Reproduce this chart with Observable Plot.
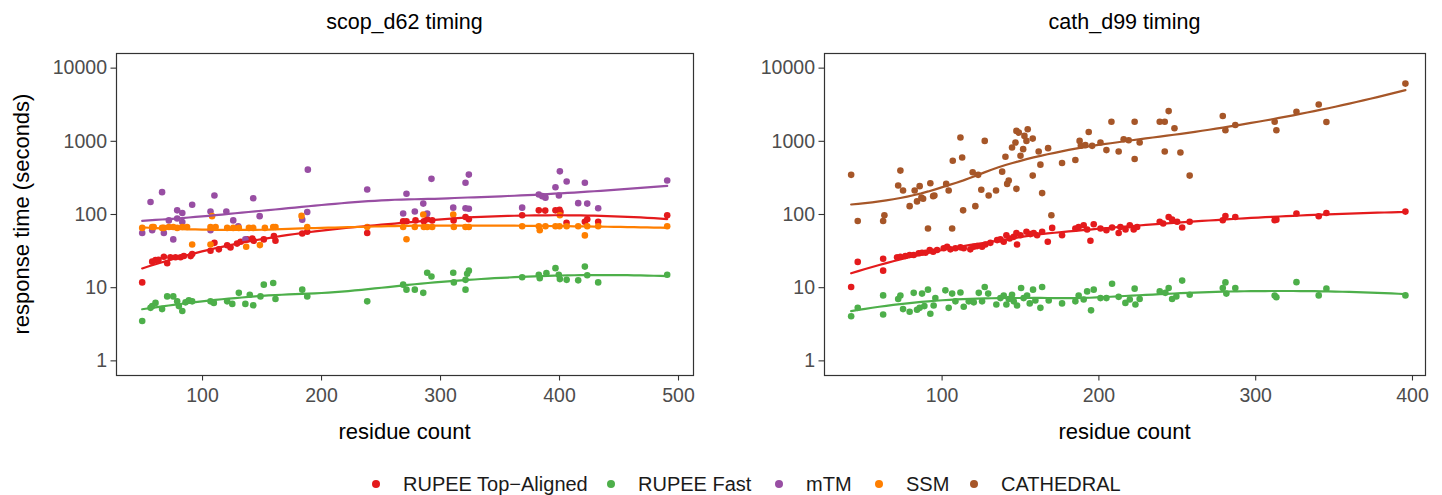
<!DOCTYPE html>
<html><head><meta charset="utf-8">
<script src="https://cdn.jsdelivr.net/npm/d3@7"></script>
<script src="https://cdn.jsdelivr.net/npm/@observablehq/plot@0.6"></script>
<style>
body{margin:0;background:#fff;font-family:"Liberation Sans",Arial,Helvetica,sans-serif;}
#wrap{position:relative;width:1442px;height:495px;overflow:hidden;background:#fff}
.panel{position:absolute;top:0}
.lbl{position:absolute;color:#000;white-space:nowrap;line-height:24px;height:24px;text-align:center}
.item{position:absolute;top:472px;height:24px;display:flex;align-items:center;font-size:20px;color:#1a1a1a;white-space:nowrap}
.item svg{display:block;margin-right:17px}
</style></head><body>
<div id="wrap"></div>
<script>
const methods = ["RUPEE Top-Aligned", "RUPEE Fast", "mTM", "SSM", "CATHEDRAL"];
const legendLabels = ["RUPEE Top\u2212Aligned", "RUPEE Fast", "mTM", "SSM", "CATHEDRAL"];
const colors = ["#E41A1C", "#4DAF4A", "#984EA3", "#FF7F00", "#A65628"];
const panelTitles = ["scop_d62 timing", "cath_d99 timing"];
const yTicks = [1, 10, 100, 1000, 10000];
const xTicksScop = [100, 200, 300, 400, 500];
const xTicksCath = [100, 200, 300, 400];

// scop_d62: [residue count, seconds]
const scopTopAligned = [[49.3,11.8],[57.7,22.7],[60.5,23.9],[63,24],[67.5,26.5],[70.3,21.6],[73,26],[77.3,26],[81.5,26],[84.3,27.1],[90,27],[91.3,28.9],[106.7,32],[110,41],[113.7,33.4],[120.7,38],[123.5,35.5],[129,40],[132,42.4],[137.5,45.7],[141.8,47],[143,43.7],[151.5,45.7],[160,50.6],[161.3,43.7],[183.8,55],[188,58],[238.4,56],[268.6,81],[271.4,81],[279,83],[286,81],[288.8,86],[293,83],[311,83],[321,92.5],[323.8,86],[368.6,97.5],[382.6,114],[388,113],[396.6,114],[400,116],[400.8,108],[405.9,77],[421.3,79.5],[423.3,86],[432.5,79.5],[490.5,97.5]];
const scopFast = [[49.3,3.5],[56.3,5.3],[57.7,5.6],[60.5,6.2],[66,5.1],[70.3,7.6],[75.4,7.6],[78.7,6.5],[80.1,5.6],[83,4.8],[85.7,6.3],[88.5,6.7],[91.3,6.5],[106.7,6.5],[109.5,6.2],[120.7,6.5],[125,6.0],[130.5,8.5],[136,6.0],[139.7,8.0],[142.6,5.75],[148.7,7.6],[151.5,11],[159.4,11.6],[161.3,7.0],[183.8,9.4],[188,7.6],[238.4,6.5],[268.6,11],[271.4,9.4],[278.4,9.4],[285.5,8.5],[288.8,16],[292.4,14.2],[310.7,16],[311.2,11.8],[321,9.4],[321,12.8],[323.8,17.1],[322.4,15.5],[368.6,13.9],[382.6,15],[383.4,13.5],[389,15.8],[396.6,18.5],[399.4,15],[400.3,13.1],[406,12.8],[415.7,12.6],[421.3,19.4],[423.3,14.8],[432.5,11.8],[490.5,15]];
const scopMTM = [[49.3,56],[56.3,148],[57.7,61],[66,202],[67.5,56],[71.7,83],[75.4,45.7],[78.7,114],[78.7,88],[83,105],[83,79],[91.3,136],[106.7,110],[106.7,61],[110,182],[120,110],[125.8,83],[130,69],[136,45.7],[142.6,167],[148,95],[183.8,85],[188.5,410],[188,108],[238.4,220],[268.6,103],[271.4,192],[278.4,110],[285.5,141],[288.8,103],[292.4,307],[310.7,124],[321,271],[323.8,351],[321,122],[323.8,120],[368.6,124],[382.6,188],[385.5,178],[388.2,170],[396.6,236],[400.3,389],[399.5,182],[406,282],[415.7,143],[421.3,271],[423.3,141],[432.5,122],[490.5,291]];
const scopSSM = [[49.3,65.6],[57.7,67.6],[59,67.6],[66,65.6],[67.5,65.6],[71.7,67.6],[75.4,67.6],[78.7,65.6],[83,67.6],[87,67.6],[91.3,39],[106.7,39],[106.7,67.6],[108,95],[111,67.6],[120.7,65.6],[125.8,65.6],[130.5,65.6],[136.7,36.3],[139,65.6],[142.6,65.6],[148.2,38.2],[152.4,65.6],[159.4,67.6],[161.3,67.6],[183.2,95.7],[188,67.6],[238.4,67.6],[268.6,67.6],[271.4,46],[278.4,67.6],[285.5,100],[286,67.6],[288.8,67.6],[293,67.6],[310.7,100],[311.2,67.6],[321,67.6],[323.8,67.6],[368.6,69],[382.6,69],[383.4,61],[388.2,69],[396.6,69],[400,69],[400.3,97.5],[406,69],[415.7,69],[421.3,51.8],[423.3,69],[432.5,69],[490.5,69]];

// cath_d99: [residue count, seconds]
const cathTopAligned = [[42,10.2],[46.2,22.5],[62.4,24.9],[62.4,17.1],[71.3,26],[73.4,26.5],[76.6,27.1],[79.3,28],[81.9,28],[85.1,29.5],[87.2,30],[89.4,30],[92.1,32.7],[94.3,31],[96.8,32.7],[101,34.5],[103.2,36.3],[105.3,33.4],[108.5,34.5],[111.7,35.6],[113.8,34.5],[118,33.4],[120.2,36.3],[122.3,37],[125.5,36.3],[127.6,39],[130.8,41],[135.1,44.7],[137.2,45.7],[139.3,42.4],[141,52],[143.1,47],[145.7,49.5],[147.4,56],[147.8,39],[150,52],[153.8,58],[156.3,54],[158.4,56],[160.6,52],[163.8,58],[167.4,42.4],[170.2,65.6],[176.5,52],[185,64.4],[187.1,67.6],[190.3,71.4],[192.5,62.4],[194.6,43.8],[196.7,73.6],[201,64.4],[204.8,61],[208.4,66.4],[212.6,56],[213.7,67.6],[217,62.4],[219.7,71.4],[222.2,62.4],[224.4,67.6],[238.8,79.5],[241,75.2],[244.5,92.5],[246.7,85],[249.9,79.5],[253.1,66.4],[257.9,79.5],[279,83.4],[280.7,95.5],[287,92.5],[312.1,83.4],[313.2,85],[326,103],[340.2,94.6],[345.1,105],[395.5,109.5]];
const cathFast = [[42,4.07],[46.2,5.3],[62.4,7.85],[62.4,4.3],[72,7.0],[73.4,7.8],[75.1,5.1],[79.3,4.7],[81.9,8.5],[84,5.0],[85.7,5.3],[87.2,8.3],[88.7,5.6],[91,9.4],[92.5,4.4],[94.6,5.7],[95.7,7.2],[102.1,9.2],[104.2,5.3],[106.4,8.3],[108.5,6.5],[111.7,8.6],[113.8,5.5],[117,6.5],[120.2,6.3],[123.4,8.5],[125.5,6.5],[127.2,10.2],[129.4,8.3],[134.6,5.9],[137.2,7.2],[139.3,7.8],[141,5.9],[142.5,7.0],[144.6,8.0],[145.7,6.5],[147.8,5.7],[150.4,9.9],[152,7.2],[154.2,7.8],[155.9,6.1],[158,9.4],[159.5,6.7],[162.7,5.3],[163.8,10.2],[168,6.7],[176.5,6.1],[185,6.5],[187.1,7.8],[190.3,6.9],[192.5,8.9],[195,4.9],[196.7,9.4],[201,7.2],[204.8,7.2],[208.4,11.3],[212.6,7.5],[216.9,6.2],[219.7,6.9],[222.8,9.7],[223.3,5.9],[226,7.0],[238.8,8.9],[242.4,8.5],[244.5,9.9],[246.7,7.0],[249.4,7.6],[253.1,12.5],[257.9,8.0],[279,9.9],[280.7,11.8],[281.3,8.3],[287,9.9],[312.1,7.8],[313.2,7.4],[326,11.9],[340.2,7.85],[345.1,9.7],[395.5,7.85]];
const cathCathedral = [[42,348],[46.2,81.6],[62.4,81.6],[63.2,97.5],[73.4,398],[72,249],[75.1,213],[79.3,130],[82.5,213],[84,151],[85.7,244],[86.8,170],[87.9,164],[91,64.4],[92.5,267],[94.3,178],[95.1,182],[102.6,262],[104.2,213],[106.8,543],[106.4,64.4],[111.7,1125],[112.8,602],[113.4,114],[119.5,377],[121.2,130],[125,218],[127.2,1014],[123,348],[129.7,182],[134.4,213],[138.3,385],[140.4,615],[141.5,262],[142.5,291],[144.6,822],[146.8,962],[147.4,1387],[147.4,224],[148.9,1315],[150,635],[151.7,782],[152.5,1186],[153.8,1014],[154.6,1462],[157.8,1089],[157.8,340],[161.6,726],[162.7,480],[163.8,196],[167.6,807],[169.7,97.5],[176.5,506],[185,555],[187.7,1014],[188.5,870],[191.4,887],[193.5,1343],[195.7,867],[201,962],[204.8,759],[208,1853],[212.6,726],[215.8,1069],[219,1035],[222.8,1853],[222.8,573],[226,962],[238.8,1853],[242,1853],[242,726],[244.5,2588],[248.2,1508],[252,703],[257.9,340],[279,2213],[280.7,1416],[287,1671],[312.1,1853],[313.2,1416],[326,2530],[340.2,3185],[345.1,1836],[395.5,6143]];

const scopSeries = [scopTopAligned, scopFast, scopMTM, scopSSM, null];
const cathSeries = [cathTopAligned, cathFast, null, null, cathCathedral];

const FONT = '"Liberation Sans", Arial, Helvetica, sans-serif';

// local quadratic fit (tricube weights, span 0.75) on log10(y); returns [value, slope]
function localFit(xs, ys, q, x) {
  const n = xs.length;
  const d = xs.map(v => Math.abs(v - x));
  const h = (d.slice().sort((a, b) => a - b)[q - 1] || 1) * 1.0000001;
  const S = [[0,0,0],[0,0,0],[0,0,0]], B = [0,0,0];
  for (let j = 0; j < n; j++) {
    const u = d[j] / h; if (u >= 1) continue;
    const w = Math.pow(1 - u * u * u, 3);
    const t = (xs[j] - x) / h; const b = [1, t, t * t];
    for (let a = 0; a < 3; a++) { B[a] += w * b[a] * ys[j]; for (let c = 0; c < 3; c++) S[a][c] += w * b[a] * b[c]; }
  }
  const M = S.map((r, k) => [...r, B[k]]);
  for (let c = 0; c < 3; c++) {
    let p = c; for (let r = c + 1; r < 3; r++) if (Math.abs(M[r][c]) > Math.abs(M[p][c])) p = r;
    [M[c], M[p]] = [M[p], M[c]];
    for (let r = c + 1; r < 3; r++) { const f = M[r][c] / M[c][c]; for (let k = c; k < 4; k++) M[r][k] -= f * M[c][k]; }
  }
  const sol = [0,0,0];
  for (let r = 2; r >= 0; r--) { let s = M[r][3]; for (let k = r + 1; k < 3; k++) s -= M[r][k] * sol[k]; sol[r] = s / M[r][r]; }
  return [sol[0], sol[1] / h];
}

// loess like R's default (kd-tree vertices + cubic Hermite interpolation)
function loess(pts, span = 0.75, nOut = 80) {
  const sorted = pts.slice().sort((a, b) => a[0] - b[0]);
  const xs = sorted.map(p => p[0]), ys = sorted.map(p => Math.log10(p[1]));
  const n = xs.length, q = Math.floor(n * span);
  const fc = Math.floor(n * span * 0.2);
  const lo = xs[0], hi = xs[n - 1];
  const mu = 0.005 * (hi - lo);
  const verts = [lo - mu, hi + mu];
  (function split(l, u) {
    if (u - l + 1 <= fc) return;
    const m = Math.floor((l + u) / 2);
    const v = (xs[m] + xs[m + 1]) / 2;
    verts.push(v);
    split(l, m); split(m + 1, u);
  })(0, n - 1);
  verts.sort((a, b) => a - b);
  const vf = verts.map(v => localFit(xs, ys, q, v));
  const out = [];
  for (let i = 0; i < nOut; i++) {
    const x = lo + (hi - lo) * i / (nOut - 1);
    let k = 0; while (k < verts.length - 2 && x > verts[k + 1]) k++;
    const x0 = verts[k], x1 = verts[k + 1], L = x1 - x0;
    const t = (x - x0) / L;
    const [y0, s0] = vf[k], [y1, s1] = vf[k + 1];
    const h00 = 2*t*t*t - 3*t*t + 1, h10 = t*t*t - 2*t*t + t, h01 = -2*t*t*t + 3*t*t, h11 = t*t*t - t*t;
    const y = h00 * y0 + h10 * L * s0 + h01 * y1 + h11 * L * s1;
    out.push({x, y: Math.pow(10, y)});
  }
  return out;
}

function makePanel(series, xDomain, xTicks, width, ml, mr) {
  const pts = [], lines = [];
  series.forEach((s, k) => {
    if (!s) return;
    s.forEach(([x, y]) => pts.push({x, y, m: methods[k]}));
    loess(s).forEach(d => lines.push({...d, m: methods[k]}));
  });
  return Plot.plot({
    width, height: 450,
    marginLeft: ml, marginRight: mr, marginTop: 53, marginBottom: 75,
    style: {fontFamily: FONT, fontSize: "19.5px", background: "transparent", overflow: "visible"},
    x: {domain: xDomain},
    y: {type: "log", domain: [Math.pow(10, -0.2), Math.pow(10, 4.2)]},
    color: {domain: methods, range: colors},
    marks: [
      Plot.axisX({ticks: xTicks, tickFormat: d => String(d), tickSize: 5.5, tickPadding: 7, label: null, color: "#4d4d4d", stroke: "#333", strokeWidth: 1.1}),
      Plot.axisY({ticks: yTicks, tickFormat: d => String(d), tickSize: 5.5, tickPadding: 4, label: null, color: "#4d4d4d", stroke: "#333", strokeWidth: 1.1}),
      Plot.dot(pts, {x: "x", y: "y", fill: "m", r: 3.3}),
      Plot.line(lines, {x: "x", y: "y", stroke: "m", z: "m", strokeWidth: 2.2, curve: "linear"}),
      Plot.frame({stroke: "#333", strokeWidth: 1.2})
    ]
  });
}

const wrap = document.getElementById("wrap");
const p1 = makePanel(scopSeries, [27.7, 512.6], xTicksScop, 720, 116, 27);
p1.classList.add("panel"); p1.style.left = "0px"; wrap.appendChild(p1);
const p2 = makePanel(cathSeries, [25, 408.3], xTicksCath, 722, 104, 17);
p2.classList.add("panel"); p2.style.left = "720px"; wrap.appendChild(p2);

function label(text, cx, cy, size, rotate) {
  const d = document.createElement("div");
  d.className = "lbl"; d.textContent = text;
  d.style.fontSize = size + "px";
  d.style.width = "400px";
  d.style.left = (cx - 200) + "px"; d.style.top = (cy - 12) + "px";
  if (rotate) d.style.transform = "rotate(-90deg)";
  wrap.appendChild(d);
}
label(panelTitles[0], 404.5, 22, 21.5);
label(panelTitles[1], 1124.5, 22, 21.5);
label("residue count", 404.5, 432, 22);
label("residue count", 1124.5, 432, 22);
label("response time (seconds)", 22, 214, 22, true);

// legend keys: dot centres across the bottom
const legendDotX = [376, 611, 779, 879, 974];
methods.forEach((m, k) => {
  const it = document.createElement("div"); it.className = "item";
  it.style.left = (legendDotX[k] - 10) + "px";
  it.innerHTML = `<svg width="20" height="20"><circle cx="10" cy="10" r="4" fill="${colors[k]}"/></svg><span>${legendLabels[k]}</span>`;
  wrap.appendChild(it);
});
</script>
</body></html>
